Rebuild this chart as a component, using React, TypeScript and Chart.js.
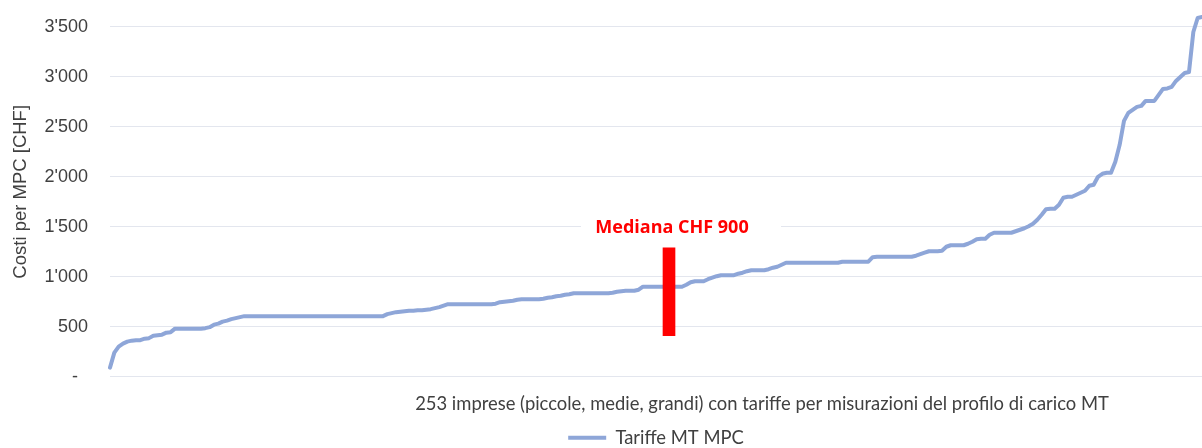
import React, { useEffect, useRef } from "react";
import { Chart, registerables } from "chart.js";

Chart.register(...registerables);

// Costs per company (CHF), sorted ascending, 253 companies
const costs: number[] = [
  90, 240, 300, 330, 350, 360, 365, 365, 380, 385,
  410, 415, 420, 440, 445, 480, 480, 480, 480, 480,
  480, 480, 485, 495, 520, 530, 550, 560, 575, 585,
  595, 605, 605, 605, 605, 605, 605, 605, 605, 605,
  605, 605, 605, 605, 605, 605, 605, 605, 605, 605,
  605, 605, 605, 605, 605, 605, 605, 605, 605, 605,
  605, 605, 605, 605, 625, 635, 645, 650, 655, 660,
  660, 665, 665, 670, 675, 685, 695, 710, 725, 725,
  725, 725, 725, 725, 725, 725, 725, 725, 725, 730,
  745, 750, 755, 760, 770, 775, 775, 775, 775, 775,
  780, 790, 795, 805, 810, 820, 825, 835, 835, 835,
  835, 835, 835, 835, 835, 835, 840, 850, 855, 860,
  860, 860, 870, 900, 900, 900, 900, 900, 900, 900,
  900, 900, 900, 920, 945, 955, 955, 955, 975, 990,
  1005, 1015, 1015, 1015, 1015, 1030, 1040, 1055, 1065, 1065,
  1065, 1065, 1075, 1090, 1100, 1120, 1140, 1140, 1140, 1140,
  1140, 1140, 1140, 1140, 1140, 1140, 1140, 1140, 1140, 1150,
  1150, 1150, 1150, 1150, 1150, 1150, 1195, 1200, 1200, 1200,
  1200, 1200, 1200, 1200, 1200, 1200, 1210, 1225, 1240, 1255,
  1255, 1255, 1260, 1300, 1315, 1315, 1315, 1315, 1330, 1350,
  1375, 1380, 1380, 1420, 1440, 1440, 1440, 1440, 1440, 1455,
  1470, 1485, 1505, 1530, 1570, 1620, 1675, 1680, 1680, 1720,
  1790, 1800, 1800, 1820, 1840, 1860, 1910, 1920, 2000, 2030,
  2040, 2040, 2150, 2320, 2560, 2640, 2670, 2700, 2710, 2760,
  2760, 2760, 2820, 2880, 2885, 2900, 2960, 3000, 3040, 3050,
  3450, 3590, 3600,
];

const companyLabels: string[] = costs.map((_, i) => String(i + 1));

const medianIndex = 129;
const medianRange: [number, number] = [410, 1290];
const medianText = "Mediana CHF 900";

const yTickValues: number[] = [0, 500, 1000, 1500, 2000, 2500, 3000, 3500];
const yMax = 3700;

const seriesName = "Tariffe MT MPC";
const yTitle = "Costi per MPC [CHF]";
const xTitle =
  "253 imprese (piccole, medie, grandi) con tariffe per misurazioni del profilo di carico MT";

const LINE_COLOR = "#8EA6D8";
const GRID_COLOR = "#E3E6EE";
const TEXT_COLOR = "#404040";

function formatTick(v: number): string {
  if (v === 0) return "-  ";
  return String(v).replace(/\B(?=(\d{3})+(?!\d))/g, "'");
}

const medianLabelPlugin = {
  id: "medianLabel",
  afterDatasetsDraw(chart: any) {
    const meta = chart.getDatasetMeta(1);
    const el = meta && meta.data[medianIndex];
    if (!el) return;
    const ctx = chart.ctx;
    ctx.save();
    const cy = el.y - 20;
    ctx.fillStyle = "#ffffff";
    ctx.fillRect(el.x - 88, cy - 12, 200, 24);
    ctx.font = "bold 18px 'Open Sans', 'Liberation Sans', sans-serif";
    ctx.fillStyle = "#FF0000";
    ctx.textAlign = "center";
    ctx.textBaseline = "middle";
    ctx.fillText(medianText, el.x + 3, cy);
    ctx.restore();
  },
};

const xTitlePlugin = {
  id: "xTitleText",
  afterDraw(chart: any) {
    const ctx = chart.ctx;
    const area = chart.chartArea;
    ctx.save();
    ctx.font = "18.4px Lato, 'Liberation Sans', sans-serif";
    ctx.fillStyle = TEXT_COLOR;
    ctx.textAlign = "center";
    ctx.textBaseline = "middle";
    ctx.fillText(xTitle, area.left + 652, area.bottom + 27);
    ctx.restore();
  },
};

export default function App() {
  const canvasRef = useRef<HTMLCanvasElement | null>(null);

  useEffect(() => {
    document.body.style.margin = "0";
    document.body.style.overflow = "hidden";
    const canvas = canvasRef.current;
    if (!canvas) return;

    const medianData: any[] = costs.map((_, i) => (i === medianIndex ? medianRange : null));

    const chart = new Chart(canvas, {
      type: "line",
      data: {
        labels: companyLabels,
        datasets: [
          {
            type: "line",
            label: seriesName,
            data: costs,
            borderColor: LINE_COLOR,
            backgroundColor: LINE_COLOR,
            borderWidth: 4,
            pointRadius: 0,
            tension: 0,
            borderJoinStyle: "round",
            borderCapStyle: "round",
            order: 1,
          } as any,
          {
            type: "bar",
            label: "Mediana",
            data: medianData,
            backgroundColor: "#FF0000",
            borderWidth: 0,
            barThickness: 12,
            order: 0,
          } as any,
        ],
      },
      options: {
        animation: false,
        responsive: true,
        maintainAspectRatio: false,
        layout: { padding: { top: 7, left: 0, right: 0, bottom: 0 } },
        plugins: {
          tooltip: { enabled: false },
          legend: {
            display: true,
            position: "bottom",
            fullSize: false,
            labels: {
              boxWidth: 38,
              boxHeight: 4,
              padding: 10,
              color: TEXT_COLOR,
              font: { family: "Lato, 'Liberation Sans', sans-serif", size: 18.4 },
              generateLabels: (chart: any) => {
                const items = Chart.defaults.plugins.legend.labels.generateLabels(chart);
                return items
                  .filter((it: any) => it.datasetIndex === 0)
                  .map((it: any) => ({ ...it, lineWidth: 0, fillStyle: LINE_COLOR }));
              },
            },
          },
        },
        scales: {
          x: {
            type: "category",
            offset: false,
            display: true,
            grid: { display: false },
            border: { display: false },
            ticks: { display: false },
            afterFit: (scale: any) => {
              scale.height = 42;
              scale.paddingLeft = 0;
              scale.paddingRight = 0;
            },
          },
          y: {
            type: "linear",
            min: 0,
            max: yMax,
            grid: { color: GRID_COLOR, lineWidth: 1, drawTicks: false },
            border: { display: false },
            afterBuildTicks: (scale: any) => {
              scale.ticks = yTickValues.map((v) => ({ value: v }));
            },
            ticks: {
              padding: 22,
              color: TEXT_COLOR,
              font: { family: "'Liberation Sans', Arial, sans-serif", size: 18 },
              callback: (v: any) => formatTick(Number(v)),
            },
            title: {
              display: true,
              text: yTitle,
              color: TEXT_COLOR,
              padding: { top: 10, bottom: 0 },
              font: { family: "'Liberation Sans', Arial, sans-serif", size: 18.5 },
            },
            afterFit: (scale: any) => {
              scale.width = 110;
              scale.paddingTop = 0;
              scale.paddingBottom = 0;
            },
          },
        },
      },
      plugins: [medianLabelPlugin, xTitlePlugin],
    });

    return () => {
      chart.destroy();
    };
  }, []);

  return (
    <div style={{ position: "relative", width: "1202px", height: "457px" }}>
      <canvas ref={canvasRef} />
    </div>
  );
}
